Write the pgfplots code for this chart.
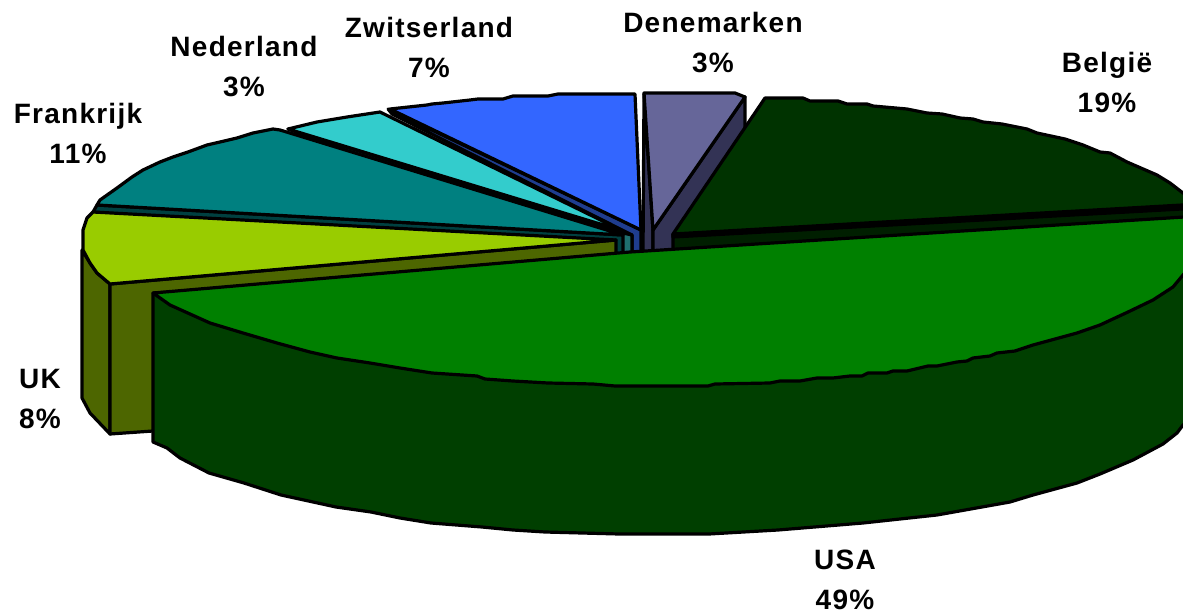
\documentclass[border=0pt]{standalone}
\usepackage{pgfplots}
\pgfplotsset{compat=1.18}
\usepackage{fontspec}
\setmainfont{Liberation Sans}
\definecolor{denTop}{HTML}{666699}
\definecolor{denSide}{HTML}{333355}
\definecolor{belTop}{HTML}{003300}
\definecolor{belSide}{HTML}{001F00}
\definecolor{zwiTop}{HTML}{3366FF}
\definecolor{zwiSide}{HTML}{1F3D8F}
\definecolor{nedTop}{HTML}{33CCCC}
\definecolor{nedSide}{HTML}{1F6F6F}
\definecolor{fraTop}{HTML}{008080}
\definecolor{fraSide}{HTML}{004040}
\definecolor{ukTop}{HTML}{99CC00}
\definecolor{ukSide}{HTML}{4D6600}
\definecolor{usaTop}{HTML}{008000}
\definecolor{usaSide}{HTML}{003F00}
\tikzset{lbl/.style={align=center, inner sep=0pt, font=\fontsize{21}{30}\selectfont\bfseries\addfontfeatures{LetterSpace=4.5}}}
\begin{document}
\begin{tikzpicture}
\begin{axis}[
    scale only axis,
    width=887.25pt, height=460.5pt,
    xmin=0, xmax=1183, ymin=0, ymax=614,
    y dir=reverse,
    axis lines=none,
    no markers,
    every axis plot/.append style={draw=black, line width=2.4pt, line join=round},
]
% Denemarken
\addplot[fill=denSide] coordinates {(644,94)(653,230)(653,256)(643,256)} --cycle;
\addplot[fill=denSide] coordinates {(745,97)(745,140)(672,256)(653,256)(653,230)} --cycle;
\addplot[fill=denTop] coordinates {(644,93)(735,93)(745,97)(653,230)} --cycle;
% Belgie
\addplot[fill=belSide] coordinates {(673,234)(1200,204)(1200,222)(673,254)} --cycle;
\addplot[fill=black] coordinates {(673,234)(1200,204)(1200,208)(673,237)} --cycle;
\addplot[fill=belTop] coordinates {(673,234)(765,98)(803,98)(810,101)(838,101)(847,104)(867,104)(873,106)
    (907,109)(927,113)(942,114)(960,118)(973,119)(983,122)(1002,124)(1027,129)(1037,133)(1065,139)
    (1083,145)(1100,152)(1110,153)(1127,162)(1157,175)(1170,183)(1183,193)(1200,204)} --cycle;
% Zwitserland
\addplot[fill=zwiSide] coordinates {(388,109)(641,230)(641,256)(632,256)(632,235)(392,114)} --cycle;
\addplot[fill=zwiTop] coordinates {(390,109)(427,105)(432,104)(443,103)(470,100)(478,99)(503,99)(513,96)
    (548,96)(558,94)(635,94)(641,230)} --cycle;
% Nederland
\addplot[fill=nedSide] coordinates {(288,129)(623,233)(632,235)(632,256)(623,256)} --cycle;
\addplot[fill=nedTop] coordinates {(288,129)(317,122)(347,117)(380,112)(623,231)} --cycle;
% Frankrijk
\addplot[fill=fraSide] coordinates {(97,205)(623,235)(623,256)(93,212)} --cycle;
\addplot[fill=fraTop] coordinates {(97,205)(100,200)(117,188)(132,177)(143,170)(160,162)(173,157)(188,152)
    (207,145)(220,142)(237,138)(253,133)(273,129)(280,130)(623,235)} --cycle;
% UK
\addplot[fill=ukSide] coordinates {(82,250)(90,263)(97,273)(110,284)(110,434)(90,413)(82,398)} --cycle;
\addplot[fill=ukSide] coordinates {(110,284)(616,240)(616,258)(153,431)(110,434)} --cycle;
\addplot[fill=ukTop] coordinates {(93,212)(87,218)(83,230)(83,250)(90,263)(97,273)(110,284)(616,240)} --cycle;
% USA
\addplot[fill=usaSide] coordinates {(153,293)(153,442)(167,448)(180,458)(209,473)(244,483)(281,495)(336,507)
    (371,512)(400,518)(431,523)(482,527)(513,530)(545,532)(619,534)(709,534)(778,530)(863,523)(937,515)(1010,502)(1033,495)
    (1077,483)(1100,474)(1133,460)(1163,444)(1177,433)(1183,425)(1200,410)(1200,250)(1000,250)} --cycle;
\addplot[fill=usaTop] coordinates {(153,293)(630,252)(1200,216)(1200,258)(1183,275)(1173,287)(1153,300)(1128,312)
    (1100,325)(1077,333)(1033,345)(1015,351)(997,353)(990,356)(973,358)(967,361)(957,362)(937,366)(928,366)
    (907,371)(893,371)(887,373)(868,373)(862,376)(850,376)(833,378)(817,378)(800,381)(780,381)(770,383)
    (715,384)(708,386)(615,386)(593,384)(548,383)(513,381)(485,379)(477,376)(432,373)(400,368)(370,363)
    (337,358)(310,352)(277,343)(243,333)(210,323)(170,305)} --cycle;
% labels
\node[lbl] at (axis cs:713,43) {Denemarken\\3\%};
\node[lbl] at (axis cs:1107,82) {België\\19\%};
\node[lbl] at (axis cs:429,47) {Zwitserland\\7\%};
\node[lbl] at (axis cs:244,67) {Nederland\\3\%};
\node[lbl] at (axis cs:78,133) {Frankrijk\\11\%};
\node[lbl] at (axis cs:40,399) {UK\\8\%};
\node[lbl] at (axis cs:845,580) {USA\\49\%};
\coordinate (tl) at (rel axis cs:0,0);
\coordinate (br) at (rel axis cs:1,1);
\end{axis}
\pgfresetboundingbox
\path[use as bounding box] (tl) rectangle (br);
\end{tikzpicture}
\end{document}
